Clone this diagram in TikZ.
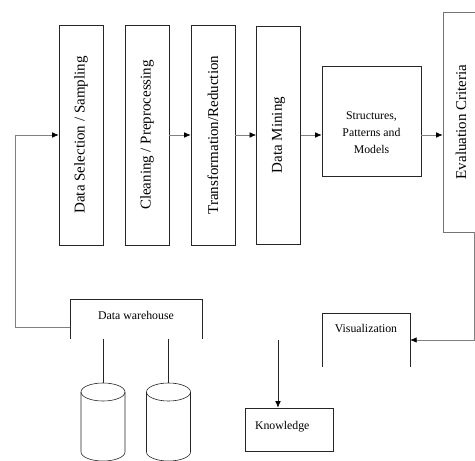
\documentclass[tikz,border=0pt]{standalone}
\usepackage{fontspec}
\setmainfont{Liberation Serif}
\usetikzlibrary{arrows.meta}
\newcommand{\vt}[1]{\rotatebox{90}{#1}}

\begin{document}
\begin{tikzpicture}[x=1pt,y=-1pt,
   stage/.style={draw=black!85,line width=0.7pt,minimum width=44pt,minimum height=220pt,inner sep=0pt,font=\fontsize{15}{18}\selectfont},
   plain/.style={font=\fontsize{11.8}{17}\selectfont},
   flow/.style={draw=black!50,line width=0.6pt,-{Latex[length=6.5pt,width=5.5pt,color=black]}},
   link/.style={draw=black!85,line width=0.6pt}]
   \useasboundingbox (0,0) rectangle (475,461);
   % process chain
   \node[stage] (sel) at (81,135) {\vt{Data Selection / Sampling}};
   \node[stage] (clean) at (147,135) {\vt{Cleaning / Preprocessing}};
   \node[stage] (trans) at (213,135) {\vt{Transformation/Reduction}};
   \node[stage,minimum height=218pt] (mine) at (278.5,135) {\vt{Data Mining}};
   \node[draw=black!85,line width=0.7pt,minimum width=99pt,minimum height=110pt] (struct) at (371.5,121) {};
   \node[plain,align=center] (structtxt) at ([yshift=-12pt]struct.center) {Structures,\\Patterns and\\Models};
   \node[stage,draw=black!55,minimum width=36pt] (eval) at (461,122) {\vt{Evaluation Criteria}};
   \coordinate (evout) at ([xshift=-5pt]eval.south east);
   % lower part
   \node[plain,minimum width=132pt,minimum height=40pt,text height=8.5pt,text depth=8.5pt] (dw) at (136,319) {Data warehouse};
   \draw[link] (dw.south west) -- (dw.north west) -- (dw.north east) -- (dw.south east);
   \node[plain,minimum width=88pt,minimum height=54pt,text height=8.5pt,text depth=24.5pt] (vis) at (366,340) {Visualization};
   \draw[link] (vis.south west) -- (vis.north west) -- (vis.north east) -- (vis.south east);
   \node[plain,draw=black!85,line width=0.7pt,minimum width=88pt,minimum height=43pt,text width=68pt,inner xsep=10pt,align=left,text height=8.5pt,text depth=9.5pt] (know) at (289,429.5) {Knowledge};
   \coordinate (back) at (15,327);
   \coordinate (kin) at (278,340);
   \coordinate (db1) at (103,383);
   \coordinate (db2) at (168.5,383);
   % databases
   \draw[link] (103,392) ellipse [x radius=22,y radius=9];
   \draw[link] (81,392) -- (81,452) arc[start angle=180,end angle=0,x radius=22,y radius=9] -- (125,392);
   \draw[link] (168.5,392) ellipse [x radius=22,y radius=9];
   \draw[link] (146.5,392) -- (146.5,452) arc[start angle=180,end angle=0,x radius=22,y radius=9] -- (190.5,392);
   \draw[link] (db1 |- dw.south) -- (db1);
   \draw[link] (db2 |- dw.south) -- (db2);
   % arrows
   \draw[flow] (clean) -- (trans);
   \draw[flow] (trans) -- (mine);
   \draw[flow] (mine.east) -- (struct.west |- mine.east);
   \draw[flow] (struct.east |- mine) -- (eval.west |- mine);
   \draw[flow] (evout) |- (vis.east);
   \draw[flow] ([yshift=-8pt]dw.west) -- (back) |- (sel.west);
   \draw[flow,draw=black!85] (kin) -- (kin |- know.north);
\end{tikzpicture}
\end{document}
